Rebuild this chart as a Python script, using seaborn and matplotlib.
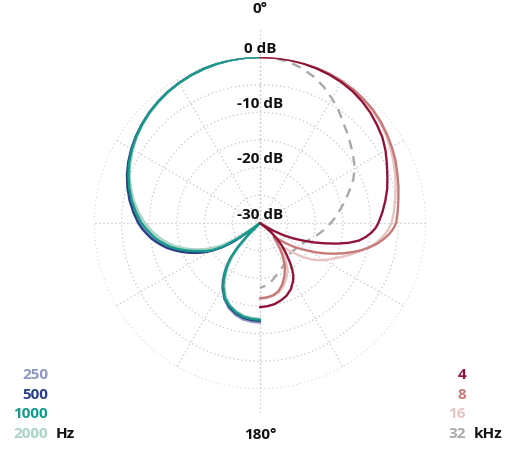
import numpy as np
import pandas as pd
import matplotlib
matplotlib.use("Agg")
import matplotlib.pyplot as plt
import seaborn as sns

# polar response in dB (finer steps around the nulls)
angles = [0, 5, 10, 15, 20, 25, 30, 35, 40, 45, 50, 55, 60, 65, 70, 75, 80, 85,
          90, 92.5, 95, 97.5, 100, 102.5, 105, 107.5, 110, 112.5, 115, 117.5,
          120, 122.5, 125, 127.5, 130, 132.5, 135, 137.5, 140, 142.5, 145,
          147.5, 150,
          155, 160, 165, 170, 175, 180]

low_labels = ['250', '500', '1000', '2000']
low_colors = ['#8e97c2', '#2b3f86', '#16998a', '#a9d3c5']
db_250 = [0, -0.02, -0.08, -0.19, -0.34, -0.53, -0.77, -1.05, -1.38, -1.76,
          -2.2, -2.68, -3.24, -3.86, -4.55, -5.35, -6.2, -7.15,
          -8.2, -8.85, -9.5, -10.2, -11.0, -11.9, -12.8, -13.9, -15.0, -16.2,
          -17.4, -18.7, -20.2, -22.0, -24.5, -28.0, -30, -30, -27.0, -24.0,
          -21.5, -19.9, -18.6, -17.4, -16.4,
          -14.8, -13.6, -12.8, -12.3, -12.1, -12.0]
db_500 = [0, -0.02, -0.08, -0.18, -0.33, -0.52, -0.75, -1.02, -1.35, -1.72,
          -2.15, -2.62, -3.15, -3.75, -4.42, -5.2, -6.05, -7.0,
          -8.0, -8.6, -9.3, -10.0, -10.8, -11.7, -12.6, -13.7, -14.8, -16.0,
          -17.2, -18.5, -20.0, -21.8, -24.0, -27.5, -30, -30, -27.5, -24.5,
          -22.0, -20.4, -19.0, -17.7, -16.6,
          -14.9, -13.8, -13.1, -12.6, -12.4, -12.3]
db_1000 = [0, -0.02, -0.08, -0.19, -0.34, -0.53, -0.77, -1.05, -1.39, -1.78,
           -2.22, -2.72, -3.3, -3.95, -4.7, -5.55, -6.45, -7.5,
           -8.6, -9.3, -10.0, -10.7, -11.5, -12.4, -13.3, -14.4, -15.6, -16.8,
           -18.0, -19.0, -20.3, -22.0, -25.0, -28.5, -30, -30, -27.0, -24.0,
           -21.8, -20.3, -19.0, -17.8, -16.7,
           -15.0, -14.0, -13.3, -12.8, -12.6, -12.5]
db_2000 = [0, -0.02, -0.09, -0.2, -0.36, -0.56, -0.8, -1.1, -1.45, -1.85,
           -2.32, -2.85, -3.45, -4.15, -4.95, -5.85, -6.85, -8.0,
           -9.2, -9.9, -10.6, -11.4, -12.2, -13.1, -14.0, -15.1, -16.3, -17.5,
           -18.8, -20.2, -21.8, -23.8, -26.5, -29.5, -30, -30, -28.0, -25.0,
           -22.5, -20.9, -19.5, -18.2, -17.1,
           -15.3, -14.2, -13.5, -13.0, -12.8, -12.7]

high_labels = ['4', '8', '16', '32']
high_colors = ['#8e1538', '#c57a78', '#e6c4c4', '#a9a9a9']
db_4k = [0, -0.01, -0.05, -0.12, -0.25, -0.4, -0.6, -0.9, -1.3, -1.8,
         -2.4, -3.0, -3.8, -4.7, -5.5, -6.2, -7.0, -7.8,
         -8.6, -9.1, -9.8, -10.7, -11.8, -13.5, -15.6, -17.8, -19.8, -21.8,
         -23.5, -25.3, -27.3, -29.5, -30, -29.0, -27.3, -26.0, -24.8, -23.6,
         -22.5, -21.2, -19.9, -18.8, -18.0,
         -16.8, -16.0, -15.5, -15.1, -14.9, -14.8]
db_8k = [0, 0, -0.03, -0.08, -0.15, -0.25, -0.4, -0.55, -0.8, -1.1,
         -1.5, -2.0, -2.5, -3.0, -3.6, -4.1, -4.6, -5.0,
         -5.4, -5.9, -6.6, -7.5, -8.5, -9.7, -11.0, -12.5, -14.0, -15.5,
         -17.0, -18.5, -20.0, -21.3, -22.5, -23.8, -25.0, -26.0, -26.5, -26.0,
         -25.0, -24.0, -23.0, -22.0, -21.0,
         -19.5, -18.2, -17.2, -16.7, -16.5, -16.4]
db_16k = [0, 0, -0.03, -0.1, -0.2, -0.3, -0.45, -0.65, -0.9, -1.25,
          -1.7, -2.2, -2.8, -3.4, -4.0, -4.6, -5.2, -5.7,
          -6.2, -6.7, -7.3, -8.0, -8.8, -9.8, -11.0, -12.0, -13.0, -14.0,
          -15.0, -15.8, -16.6, -17.5, -18.5, -19.7, -21.0, -22.3, -23.5, -24.0,
          -24.0, -23.0, -22.0, -21.0, -20.0,
          -18.8, -17.8, -17.0, -16.6, -16.4, -16.3]
db_32k = [0, -0.1, -0.4, -1.0, -1.8, -2.8, -4.0, -5.2, -6.5, -7.5,
          -8.5, -9.4, -10.2, -11.4, -12.8, -14.0, -15.2, -16.2,
          -17.2, -17.7, -18.2, -18.65, -19.1, -19.55, -20.0, -20.4, -20.8,
          -21.1, -21.4, -21.6, -21.8, -21.9, -22.0, -22.1, -22.2, -22.25,
          -22.3, -22.15, -22.0, -21.85, -21.7, -21.5, -21.3,
          -20.9, -20.4, -19.8, -19.1, -18.6, -18.3]

ring_db = [0, -10, -20, -30]
floor_db = -30

sns.set_style('white')
plt.rcParams['font.family'] = ['Open Sans', 'DejaVu Sans']

W, H = 523, 465
fig = plt.figure(figsize=(W / 100, H / 100), dpi=100)
ax = fig.add_axes([0.1797, 0.1634, 0.6348, 0.7140], projection='polar')
ax.set_theta_zero_location('N')
ax.set_theta_direction(-1)
ax.set_ylim(0, 30)
ax.set_xticks(np.deg2rad(np.arange(0, 360, 30)))
ax.set_xticklabels([])
ax.set_yticks([5, 10, 15, 20, 25, 30])
ax.set_yticklabels([])
grid_kw = dict(color='#c6c6c6', linestyle=(0, (1, 2.2)), linewidth=0.9)
ax.grid(True, **grid_kw)
ax.spines['polar'].set_visible(False)

# vertical axis runs past the outer ring
ax.plot([0, 0], [0, 35.5], clip_on=False, **grid_kw)
ax.plot([np.pi, np.pi], [0, 34.4], clip_on=False, **grid_kw)

ang = np.deg2rad(np.array(angles))


def draw(db, color, side, dashed=False):
    df = pd.DataFrame({'theta': side * ang,
                       'r': np.clip(np.array(db) - floor_db, 0, None)})
    sns.lineplot(data=df, x='theta', y='r', sort=False, estimator=None,
                 color=color, lw=1.7, ax=ax,
                 linestyle=(0, (4, 3)) if dashed else '-')


# left half: low frequencies, teal on top
for db, c in [(db_250, low_colors[0]), (db_500, low_colors[1]),
              (db_2000, low_colors[3]), (db_1000, low_colors[2])]:
    draw(db, c, -1)
# right half: high frequencies, dark red on top
draw(db_32k, high_colors[3], 1, dashed=True)
for db, c in [(db_16k, high_colors[2]), (db_8k, high_colors[1]),
              (db_4k, high_colors[0])]:
    draw(db, c, 1)

ax.set_xlabel('')
ax.set_ylabel('')

for d in ring_db:
    ax.annotate(f'{d} dB', (0, d - floor_db), xytext=(0, 6),
                textcoords='offset points', ha='center', va='center',
                fontsize=11, fontweight='bold', color='#111111',
                annotation_clip=False)

fig.text(260 / W, 1 - 9 / H, '0°', ha='center', va='center',
         fontsize=11, fontweight='bold', color='#111111')
fig.text(260 / W, 1 - 435 / H, '180°', ha='center', va='center',
         fontsize=11, fontweight='bold', color='#111111')

rows = [375, 395, 414, 434]
for lab, c, y in zip(low_labels, low_colors, rows):
    fig.text(48 / W, 1 - y / H, lab, ha='right', va='center',
             fontsize=11, fontweight='bold', color=c)
fig.text(56 / W, 1 - rows[-1] / H, 'Hz', ha='left', va='center',
         fontsize=11, fontweight='bold', color='#111111')
for lab, c, y in zip(high_labels, high_colors, rows):
    fig.text(466 / W, 1 - y / H, lab, ha='right', va='center',
             fontsize=11, fontweight='bold', color=c)
fig.text(474 / W, 1 - rows[-1] / H, 'kHz', ha='left', va='center',
         fontsize=11, fontweight='bold', color='#111111')

fig.savefig('out.png', dpi=100)
